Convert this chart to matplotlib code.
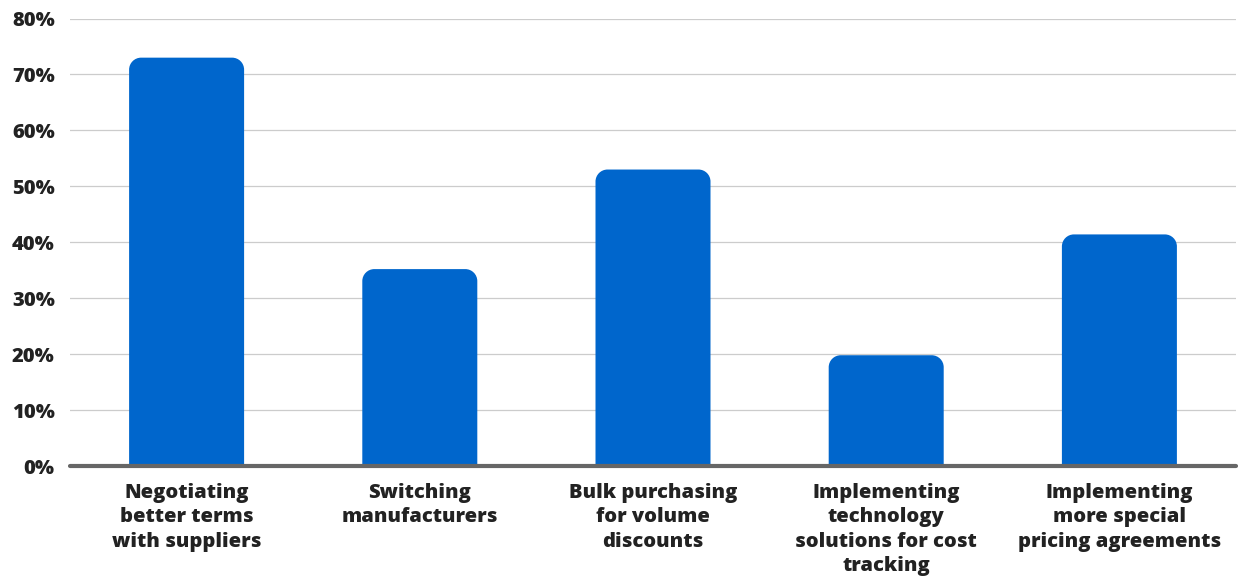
import matplotlib
matplotlib.use("Agg")
import matplotlib.pyplot as plt
from matplotlib.path import Path
from matplotlib.patches import PathPatch

categories = [
    "Negotiating\nbetter terms\nwith suppliers",
    "Switching\nmanufacturers",
    "Bulk purchasing\nfor volume\ndiscounts",
    "Implementing\ntechnology\nsolutions for cost\ntracking",
    "Implementing\nmore special\npricing agreements",
]
values = [73, 35.2, 53, 19.8, 41.4]
yticks = [0, 10, 20, 30, 40, 50, 60, 70, 80]
ytick_labels = ["0%", "10%", "20%", "30%", "40%", "50%", "60%", "70%", "80%"]

BAR_COLOR = "#0066CC"
TEXT_COLOR = "#222222"

plt.rcParams["font.family"] = ["Open Sans", "DejaVu Sans"]

W, H, DPI = 1238, 577, 100
fig = plt.figure(figsize=(W / DPI, H / DPI), dpi=DPI)
ax = fig.add_axes([70 / W, 1 - 466 / H, (1236 - 70) / W, (466 - 18.5) / H])

ax.set_xlim(-0.5, len(categories) - 0.5)
ax.set_ylim(0, 80)

px_per_x = (1236 - 70) / len(categories)
px_per_y = (466 - 18.5) / 80.0
r_px = 12
rx = r_px / px_per_x
ry = r_px / px_per_y
bw = 115 / px_per_x

k = 0.5523
for i, v in enumerate(values):
    x0, x1 = i - bw / 2, i + bw / 2
    verts = [
        (x0, 0), (x0, v - ry),
        (x0, v - ry + k * ry), (x0 + rx - k * rx, v), (x0 + rx, v),
        (x1 - rx, v),
        (x1 - rx + k * rx, v), (x1, v - ry + k * ry), (x1, v - ry),
        (x1, 0), (x0, 0),
    ]
    codes = [Path.MOVETO, Path.LINETO,
             Path.CURVE4, Path.CURVE4, Path.CURVE4,
             Path.LINETO,
             Path.CURVE4, Path.CURVE4, Path.CURVE4,
             Path.LINETO, Path.CLOSEPOLY]
    ax.add_patch(PathPatch(Path(verts, codes), facecolor=BAR_COLOR,
                           edgecolor="none", zorder=3))

ax.set_yticks(yticks)
ax.set_yticklabels(ytick_labels)
ax.set_xticks(range(len(categories)))
ax.set_xticklabels(categories, linespacing=1.3)

for lab in ax.get_yticklabels() + ax.get_xticklabels():
    lab.set_fontweight("heavy")
    lab.set_fontsize(14.5)
    lab.set_color(TEXT_COLOR)

ax.tick_params(axis="both", length=0)
ax.tick_params(axis="y", pad=11)
ax.tick_params(axis="x", pad=12)

ax.grid(axis="y", color="#cccccc", linewidth=0.9, zorder=0)
ax.set_axisbelow(True)
for s in ["top", "right", "left"]:
    ax.spines[s].set_visible(False)
ax.spines["bottom"].set_color("#666666")
ax.spines["bottom"].set_linewidth(3)
ax.spines["bottom"].set_zorder(4)
ax.spines["bottom"].set_capstyle("round")

fig.savefig("out.png", dpi=DPI)
